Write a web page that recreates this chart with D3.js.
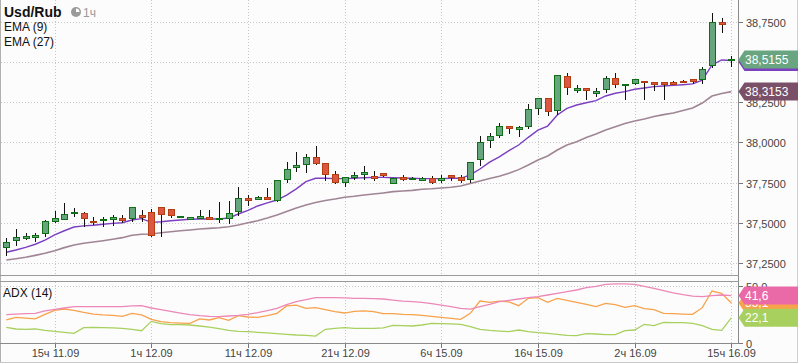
<!doctype html>
<html>
<head>
<meta charset="utf-8">
<script src="https://d3js.org/d3.v7.min.js"></script>
<style>
  body { margin: 0; background: #fcfcfc; }
  svg { display: block; font-family: "Liberation Sans", Arial, sans-serif; }
</style>
</head>
<body>
<svg id="chart" width="798" height="363"></svg>
<script>
// ---- data (hourly candles, Usd/Rub) ----
var opens = [37.351,37.391,37.407,37.413,37.434,37.509,37.525,37.558,37.558,37.511,
  37.515,37.525,37.529,37.527,37.548,37.565,37.596,37.583,37.534,37.523,
  37.531,37.536,37.521,37.527,37.573,37.654,37.646,37.660,37.641,37.770,
  37.845,37.863,37.907,37.869,37.801,37.755,37.784,37.801,37.790,37.807,
  37.745,37.786,37.770,37.766,37.776,37.766,37.797,37.782,37.770,37.894,
  38.012,38.045,38.101,38.085,38.103,38.211,38.273,38.201,38.412,38.327,
  38.336,38.308,38.330,38.398,38.354,38.367,38.381,38.375,38.375,38.373,
  38.381,38.392,38.392,38.479,38.748,38.509];
var highs = [37.407,37.461,37.434,37.434,37.517,37.573,37.623,37.590,37.568,37.534,
  37.534,37.548,37.548,37.596,37.579,37.583,37.596,37.583,37.544,37.536,
  37.579,37.579,37.627,37.635,37.720,37.672,37.665,37.714,37.764,37.876,
  37.938,37.925,37.977,37.869,37.822,37.786,37.817,37.853,37.822,37.807,
  37.776,37.797,37.784,37.786,37.790,37.797,37.797,37.797,37.879,38.041,
  38.060,38.118,38.101,38.101,38.238,38.273,38.273,38.417,38.429,38.356,
  38.336,38.336,38.412,38.429,38.362,38.392,38.381,38.375,38.375,38.383,
  38.387,38.392,38.466,38.802,38.771,38.537];
var lows = [37.295,37.357,37.392,37.382,37.413,37.496,37.521,37.537,37.471,37.486,
  37.475,37.481,37.500,37.506,37.506,37.409,37.413,37.527,37.532,37.521,
  37.523,37.517,37.500,37.492,37.542,37.604,37.640,37.641,37.630,37.749,
  37.817,37.811,37.859,37.761,37.739,37.724,37.766,37.766,37.759,37.782,
  37.739,37.759,37.766,37.759,37.739,37.745,37.759,37.745,37.745,37.855,
  37.963,38.025,38.052,38.031,38.083,38.170,38.164,38.170,38.294,38.304,
  38.261,38.284,38.308,38.336,38.261,38.356,38.261,38.321,38.261,38.356,
  38.367,38.363,38.363,38.460,38.678,38.466];
var closes = [37.378,37.411,37.416,37.424,37.511,37.527,37.552,37.566,37.527,37.503,
  37.523,37.534,37.517,37.596,37.537,37.424,37.552,37.546,37.542,37.534,
  37.540,37.525,37.529,37.558,37.652,37.643,37.658,37.649,37.764,37.832,
  37.857,37.907,37.873,37.801,37.755,37.782,37.797,37.815,37.780,37.797,
  37.776,37.770,37.780,37.776,37.755,37.776,37.782,37.766,37.879,38.004,
  38.037,38.101,38.091,38.095,38.207,38.273,38.197,38.417,38.342,38.338,
  38.323,38.319,38.398,38.361,38.362,38.392,38.373,38.364,38.364,38.364,
  38.373,38.381,38.454,38.746,38.736,38.5155];
var ema9 = [37.316,37.330,37.347,37.366,37.392,37.424,37.450,37.473,37.480,37.484,
  37.490,37.496,37.500,37.517,37.525,37.502,37.506,37.512,37.517,37.521,
  37.523,37.523,37.523,37.529,37.554,37.577,37.604,37.623,37.641,37.672,
  37.710,37.755,37.776,37.776,37.774,37.774,37.776,37.780,37.782,37.782,
  37.780,37.778,37.776,37.774,37.774,37.774,37.776,37.776,37.797,37.834,
  37.877,37.910,37.948,37.983,38.031,38.076,38.101,38.170,38.211,38.232,
  38.246,38.259,38.288,38.305,38.315,38.330,38.338,38.346,38.350,38.354,
  38.358,38.363,38.387,38.481,38.512,38.509];
var ema27 = [37.268,37.276,37.285,37.297,37.310,37.326,37.345,37.361,37.372,37.380,
  37.388,37.397,37.407,37.422,37.428,37.430,37.438,37.444,37.450,37.455,
  37.461,37.465,37.469,37.475,37.486,37.500,37.512,37.529,37.548,37.570,
  37.591,37.610,37.626,37.638,37.647,37.658,37.664,37.672,37.678,37.685,
  37.693,37.697,37.701,37.708,37.711,37.716,37.720,37.728,37.744,37.759,
  37.775,37.789,37.807,37.830,37.859,37.890,37.915,37.952,37.983,38.004,
  38.030,38.052,38.076,38.097,38.117,38.132,38.145,38.160,38.172,38.182,
  38.198,38.213,38.244,38.288,38.303,38.3153];
var adx = [24.9,25.4,25.7,26.0,28.1,29.5,30.7,31.9,31.9,31.9,
  31.9,31.9,31.9,32.5,32.7,30.7,29.2,27.8,26.3,24.9,
  24.0,23.4,23.1,23.7,24.3,25.1,26.6,28.4,30.4,33.6,
  36.3,38.0,39.8,39.8,39.8,39.5,39.2,39.2,38.9,38.6,
  37.7,36.8,36.3,35.7,34.5,33.3,31.9,30.4,29.8,31.9,
  33.9,36.3,37.4,38.6,39.8,40.6,42.1,43.6,45.0,46.5,
  48.5,49.7,51.5,51.8,51.8,51.5,49.7,48.0,45.9,43.9,
  42.4,41.2,40.6,41.5,42.1,41.6];
var diPlus = [20.2,22.5,21.9,21.1,25.1,28.7,29.8,28.7,26.9,25.4,
  24.6,24.3,23.4,26.0,24.6,20.8,18.7,17.8,17.5,17.3,
  21.1,20.2,22.2,19.9,24.0,22.8,22.5,24.0,26.0,32.5,
  33.3,30.4,31.0,29.2,27.5,26.3,27.8,28.1,27.5,25.7,
  25.7,25.1,24.9,24.3,23.4,22.5,21.6,20.8,26.0,36.8,
  35.7,36.8,36.0,32.7,39.2,39.8,35.7,39.2,37.4,35.7,
  33.9,31.9,34.8,33.6,31.3,32.7,30.1,29.2,26.0,25.7,
  25.4,25.1,31.0,45.6,43.6,35.1];
var diMinus = [13.7,12.3,12.0,12.3,11.1,10.2,9.4,8.5,13.5,13.7,
  13.5,13.2,12.9,12.0,10.8,19.0,17.0,16.1,16.1,15.8,
  14.9,14.0,12.6,11.1,10.2,9.9,9.4,8.8,8.2,7.6,
  7.0,6.7,6.1,12.0,12.9,13.5,12.9,12.9,12.9,13.2,
  15.5,15.2,14.9,15.8,17.3,17.0,16.7,16.4,14.3,12.0,
  11.1,10.5,9.9,11.4,9.9,9.1,8.5,7.6,6.7,6.4,
  8.2,7.9,7.3,7.3,10.8,11.4,16.4,15.2,18.1,17.8,
  17.8,17.3,15.2,12.0,11.1,22.1];

var timeTickIdx = [5, 15, 25, 35, 45, 55, 65, 75];
var timeTickLabels = ["15ч 11.09", "1ч 12.09", "11ч 12.09", "21ч 12.09",
  "6ч 15.09", "16ч 15.09", "2ч 16.09", "15ч 16.09"];
var priceTicks = [37.25, 37.5, 37.75, 38.0, 38.25, 38.5, 38.75];
var adxTicks = [0, 50];

// ---- layout ----
var svg = d3.select("#chart");
var plotLeft = 0.5, plotRight = 738.5;
var mainTop = 0, mainBottom = 275.5;
var adxTop = 281.5, adxBottom = 343.5;

var ruLocale = d3.formatLocale({decimal: ",", thousands: " ", grouping: [3], currency: ["", ""]});
var fmtPrice = ruLocale.format(".4f");
var fmtAdx = ruLocale.format(".1f");

var x = d3.scaleLinear().domain([0, 75]).range([6.3, 731.3]);
var y = d3.scaleLinear().domain([37.25, 38.75]).range([262.9, 21.7]);
var yAdx = d3.scaleLinear().domain([0, 50]).range([343, 286]);

svg.append("rect").attr("x", 0).attr("y", 0).attr("width", 798).attr("height", 363).attr("fill", "#fcfcfc");

// grid
var grid = svg.append("g").attr("stroke", "#c8c8c8").attr("stroke-dasharray", "1,2").attr("shape-rendering", "crispEdges");
priceTicks.forEach(function(t) {
  var yy = Math.round(y(t)) + 0.5;
  grid.append("line").attr("x1", plotLeft).attr("x2", plotRight).attr("y1", yy).attr("y2", yy);
});
timeTickIdx.forEach(function(i) {
  var xx = Math.round(x(i)) + 0.5;
  grid.append("line").attr("x1", xx).attr("x2", xx).attr("y1", mainTop).attr("y2", mainBottom);
  grid.append("line").attr("x1", xx).attr("x2", xx).attr("y1", adxTop).attr("y2", adxBottom);
});
grid.append("line").attr("x1", plotLeft).attr("x2", plotRight)
  .attr("y1", Math.round(yAdx(50)) + 0.5).attr("y2", Math.round(yAdx(50)) + 0.5);

// EMA lines
var idx = d3.range(closes.length);
var seriesLine = function(arr, sc) {
  return d3.line().x(function(i) { return x(i); }).y(function(i) { return sc(arr[i]); });
};
svg.append("path").attr("d", seriesLine(ema27, y)(idx)).attr("fill", "none")
  .attr("stroke", "#a08595").attr("stroke-width", 1.6);
svg.append("path").attr("d", seriesLine(ema9, y)(idx)).attr("fill", "none")
  .attr("stroke", "#7b3fbf").attr("stroke-width", 1.4);

// candles
var candles = svg.append("g").attr("shape-rendering", "crispEdges");
idx.forEach(function(i) {
  var cx = Math.round(x(i));
  var up = closes[i] >= opens[i];
  candles.append("line")
    .attr("x1", cx + 0.5).attr("x2", cx + 0.5)
    .attr("y1", Math.round(y(highs[i]))).attr("y2", Math.round(y(lows[i])))
    .attr("stroke", "#111").attr("stroke-width", 1);
  var top = Math.round(y(Math.max(opens[i], closes[i])));
  var bot = Math.round(y(Math.min(opens[i], closes[i])));
  var h = Math.max(1, bot - top);
  var stroke = up ? "#0f6e16" : "#b23e12";
  var fill = up ? "#66a67c" : "#dd5641";
  if (h < 2) fill = stroke;
  candles.append("rect")
    .attr("x", cx - 3 + 0.5).attr("y", top + 0.5)
    .attr("width", 6).attr("height", h)
    .attr("fill", fill).attr("stroke", stroke).attr("stroke-width", 1);
});

// ADX lines
[[diMinus, "#a8d05e"], [diPlus, "#f8a24c"], [adx, "#ec88b8"]].forEach(function(s) {
  svg.append("path").attr("d", seriesLine(s[0], yAdx)(idx)).attr("fill", "none")
    .attr("stroke", s[1]).attr("stroke-width", 1.3);
});

// frames
var frame = svg.append("g").attr("shape-rendering", "crispEdges").attr("fill", "none");
frame.append("line").attr("x1", 0.5).attr("x2", 0.5).attr("y1", 0).attr("y2", 363).attr("stroke", "#b0b0b0");
frame.append("line").attr("x1", 797.5).attr("x2", 797.5).attr("y1", 0).attr("y2", 363).attr("stroke", "#d0d0d0");
frame.append("line").attr("x1", 0).attr("x2", 798).attr("y1", 362.5).attr("y2", 362.5).attr("stroke", "#c8c8c8");
frame.append("line").attr("x1", plotRight).attr("x2", plotRight).attr("y1", 0).attr("y2", adxBottom).attr("stroke", "#8a8a8a");
frame.append("line").attr("x1", 0).attr("x2", plotRight).attr("y1", mainBottom).attr("y2", mainBottom).attr("stroke", "#9a9a9a");
frame.append("line").attr("x1", 0).attr("x2", plotRight).attr("y1", adxTop).attr("y2", adxTop).attr("stroke", "#9a9a9a");
frame.append("line").attr("x1", 0).attr("x2", plotRight).attr("y1", adxBottom).attr("y2", adxBottom).attr("stroke", "#8a8a8a");

// right price axis
var axisG = svg.append("g").attr("font-size", 11).attr("fill", "#444");
priceTicks.forEach(function(t) {
  var yy = Math.round(y(t)) + 0.5;
  axisG.append("line").attr("x1", plotRight).attr("x2", plotRight + 4).attr("y1", yy).attr("y2", yy)
    .attr("stroke", "#777").attr("shape-rendering", "crispEdges");
  axisG.append("text").attr("x", 746).attr("y", yy + 4).text(fmtPrice(t));
});
adxTicks.forEach(function(t) {
  var yy = Math.round(yAdx(t)) + 0.5;
  axisG.append("line").attr("x1", plotRight).attr("x2", plotRight + 4).attr("y1", yy).attr("y2", yy)
    .attr("stroke", "#777").attr("shape-rendering", "crispEdges");
  axisG.append("text").attr("x", 746).attr("y", yy + 4).text(t === 0 ? "0" : fmtAdx(t));
});

// time axis
timeTickIdx.forEach(function(i, k) {
  var xx = Math.round(x(i)) + 0.5;
  axisG.append("line").attr("x1", xx).attr("x2", xx).attr("y1", adxBottom).attr("y2", adxBottom + 4)
    .attr("stroke", "#777").attr("shape-rendering", "crispEdges");
  axisG.append("text").attr("x", xx).attr("y", 357).attr("text-anchor", "middle").text(timeTickLabels[k]);
});

// value tags (last values on the right scale)
function tag(yc, color, label) {
  var g = svg.append("g");
  g.append("path")
    .attr("d", "M" + plotRight + "," + yc + "L" + (plotRight + 6) + "," + (yc - 9) +
      "L798," + (yc - 9) + "L798," + (yc + 9) + "L" + (plotRight + 6) + "," + (yc + 9) + "Z")
    .attr("fill", color);
  if (label) {
    g.append("text").attr("x", 745).attr("y", yc + 4.5).attr("fill", "#fff")
      .attr("font-size", 12).text(label);
  }
}
var last = closes.length - 1;
// EMA(9) tag sits fully behind the price tag, only its lower edge shows
tag(y(ema9[last]) + 1.5, "#7b3fbf", null);
tag(y(closes[last]), "#6aa582", fmtPrice(closes[last]));
tag(y(ema27[last]), "#7a5068", fmtPrice(ema27[last]));
tag(yAdx(diPlus[last]), "#f8a24c", fmtAdx(diPlus[last]));
tag(yAdx(adx[last]), "#e96aa7", fmtAdx(adx[last]));
tag(yAdx(diMinus[last]), "#a8d05e", fmtAdx(diMinus[last]));

// legends
var leg = svg.append("g").attr("fill", "#111");
leg.append("text").attr("x", 4).attr("y", 17).attr("font-size", 14).attr("font-weight", "bold").text("Usd/Rub");
leg.append("circle").attr("cx", 76).attr("cy", 12).attr("r", 5).attr("fill", "#9a9a9a");
leg.append("path").attr("d", "M76,12L76,8.5A3.5,3.5 0 0 1 79.5,12Z").attr("fill", "#fff");
leg.append("text").attr("x", 83).attr("y", 17).attr("font-size", 12).attr("fill", "#999").text("1ч");
leg.append("text").attr("x", 4).attr("y", 31).attr("font-size", 12).text("EMA (9)");
leg.append("text").attr("x", 4).attr("y", 46).attr("font-size", 12).text("EMA (27)");
leg.append("text").attr("x", 3).attr("y", 297).attr("font-size", 12).text("ADX (14)");
</script>
</body>
</html>
